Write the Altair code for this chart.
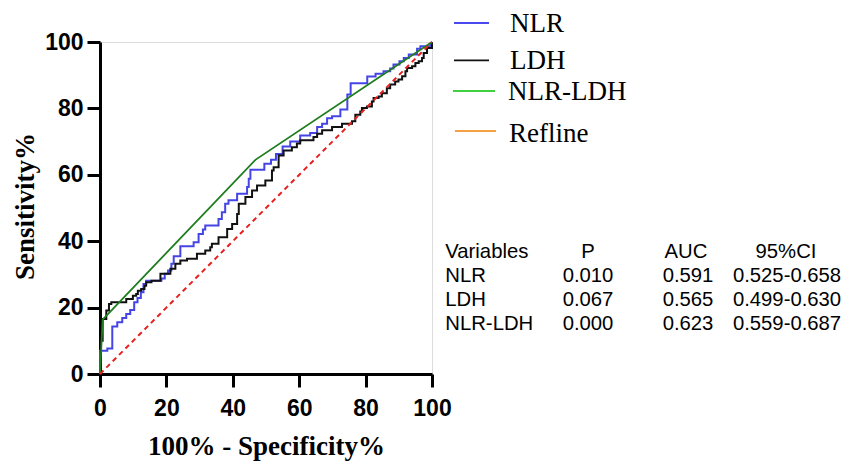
import altair as alt
import pandas as pd

# ROC curve vertices (step-after for NLR and LDH)
nlr_x = [0, 0, 2.2, 3.7, 5.2, 6.7, 7.9, 9.1, 10.3, 11.3, 12.3, 13.1, 13.9, 18.5, 19.5, 20.5,
         21.5, 22.2, 24.2, 28.2, 29.7, 31.0, 31.7, 35.7, 36.7, 37.7, 38.7, 41.3, 44.3, 44.8,
         45.3, 49.5, 51.5, 53.0, 55.0, 57.3, 60.3, 63.3, 65.4, 66.9, 68.4, 69.9, 72.4, 74.5,
         75.5, 80.5, 83.0, 85.4, 87.4, 88.4, 90.2, 91.5, 93.0, 95.5, 96.5, 99.5, 100]
nlr_y = [0, 7.0, 7.7, 14.3, 15.6, 16.9, 18.1, 19.3, 21.6, 22.9, 24.6, 27.1, 28.1, 28.8, 30.2, 31.2,
         33.2, 35.5, 38.5, 39.7, 42.2, 43.5, 44.7, 46.7, 48.7, 51.3, 52.3, 54.3, 56.3, 58.8,
         61.5, 63.3, 64.5, 66.3, 68.5, 70.0, 71.8, 72.6, 74.4, 75.4, 77.0, 77.6, 79.7, 84.2,
         87.6, 89.6, 90.4, 91.2, 92.0, 93.2, 94.2, 95.2, 96.2, 98.0, 98.7, 99.5, 100]

ldh_x = [0, 0.3, 0.8, 1.9, 2.7, 3.4, 7.9, 9.9, 10.9, 11.4, 12.4, 13.4, 13.9, 15.5, 18.2, 21.2,
         22.7, 24.2, 26.2, 29.2, 31.7, 33.2, 33.7, 35.7, 38.3, 39.8, 41.3, 41.8, 43.8, 45.8,
         47.3, 49.8, 51.8, 52.3, 53.8, 55.3, 57.8, 59.3, 60.3, 64.3, 65.4, 66.9, 69.9, 72.9,
         75.9, 76.9, 78.4, 78.9, 80.4, 81.9, 82.4, 83.9, 84.9, 86.4, 87.4, 88.9, 89.9, 91.0,
         92.0, 92.5, 94.0, 95.0, 96.0, 97.0, 97.5, 98.5, 100, 100]
ldh_y = [0, 10.0, 16.6, 19.1, 21.1, 21.6, 22.6, 23.6, 24.1, 25.1, 25.6, 26.6, 27.6, 28.1, 30.2, 31.7,
         33.2, 34.2, 34.7, 36.2, 37.2, 38.2, 39.2, 41.2, 43.7, 45.2, 48.2, 51.3, 53.3, 55.3,
         56.8, 58.3, 61.3, 62.3, 65.8, 67.3, 68.3, 69.4, 70.4, 71.4, 72.4, 73.4, 74.4, 75.4,
         76.1, 78.1, 79.1, 80.1, 80.6, 82.1, 83.1, 83.6, 84.6, 86.1, 87.2, 88.1, 88.7, 89.7,
         91.2, 92.2, 92.7, 93.7, 94.2, 95.2, 96.7, 98.2, 99.2, 100]

combo_x = [0, 0.8, 46.8, 100]
combo_y = [0, 16.4, 64.5, 100]

ref_x = [0, 100]
ref_y = [0, 100]

legend_labels = ["NLR", "LDH", "NLR-LDH", "Refline"]
legend_colors = ["#4a4af0", "#111111", "#40d040", "#f5a142"]

table_header = ["Variables", "P", "AUC", "95%CI"]
table_vars = ["NLR", "LDH", "NLR-LDH"]
table_p = ["0.010", "0.067", "0.000"]
table_auc = ["0.591", "0.565", "0.623"]
table_ci = ["0.525-0.658", "0.499-0.630", "0.559-0.687"]

xs = alt.Scale(domain=[0, 100], nice=False)
ys = alt.Scale(domain=[0, 100], nice=False)

common_axis = dict(grid=False, domainWidth=3, domainColor="black", tickColor="black",
                   tickWidth=3, tickSize=13, labelFont="Liberation Sans", labelFontSize=23,
                   labelFontWeight="bold", labelColor="black", labelFlush=False,
                   labelOverlap=False, titleFont="Liberation Serif", titleFontSize=27,
                   titleFontWeight="bold", titleColor="black", values=[0, 20, 40, 60, 80, 100])
x_axis = alt.Axis(title="100% - Specificity%", labelPadding=10, titleY=80,
                  titleBaseline="alphabetic", **common_axis)
y_axis = alt.Axis(title="Sensitivity%", labelPadding=4, titleX=-67, titleY=164,
                  titleBaseline="alphabetic", **common_axis)


def curve(xv, yv, color, interp, width=2.0, dash=None):
    df = pd.DataFrame({"x": xv, "y": yv, "o": list(range(len(xv)))})
    kw = dict(color=color, strokeWidth=width, interpolate=interp)
    if dash:
        kw["strokeDash"] = dash
    return alt.Chart(df).mark_line(**kw).encode(
        x=alt.X("x:Q", scale=xs, axis=x_axis),
        y=alt.Y("y:Q", scale=ys, axis=y_axis),
        order="o:Q",
    )


layers = [
    curve(nlr_x, nlr_y, "#4545e6", "step-after", 2.0),
    curve(ldh_x, ldh_y, "#111111", "step-after", 2.0),
    curve(combo_x, combo_y, "#1e7d1e", "linear", 1.8),
    curve(ref_x, ref_y, "#e62020", "linear", 2.0, [5, 4]),
]

# custom legend
leg_line_x = [(354, 389), (354, 389), (353, 395), (355, 396)]
leg_line_y = [-19, 18.3, 49, 89]
leg_text_x = [410, 410, 408, 409]
leg_text_y = [-9.6, 26.6, 57.6, 100]
for i, lab in enumerate(legend_labels):
    d = pd.DataFrame({"t": [lab]})
    layers.append(alt.Chart(d).mark_rule(color=legend_colors[i], strokeWidth=1.8).encode(
        x=alt.value(leg_line_x[i][0]), x2=alt.value(leg_line_x[i][1]), y=alt.value(leg_line_y[i])))
    layers.append(alt.Chart(d).mark_text(align="left", baseline="alphabetic",
                                         font="Liberation Serif", fontSize=27, color="black").encode(
        x=alt.value(leg_text_x[i]), y=alt.value(leg_text_y[i]), text="t:N"))

# table
row_y = [215.6, 240, 264.3, 288.3]
head_x = [345.3, 488, 586, 686]
col_x = [345.3, 488, 588, 687]
aligns = ["left", "center", "center", "center"]
columns = [table_vars, table_p, table_auc, table_ci]
for c in range(4):
    cells = [(table_header[c], head_x[c], row_y[0])]
    for r in range(3):
        cells.append((columns[c][r], col_x[c], row_y[r + 1]))
    for txt, cx, cy in cells:
        d = pd.DataFrame({"t": [txt]})
        layers.append(alt.Chart(d).mark_text(align=aligns[c], baseline="alphabetic",
                                             font="Liberation Sans", fontSize=20.3, color="black").encode(
            x=alt.value(cx), y=alt.value(cy), text="t:N"))

chart = alt.layer(*layers).properties(
    width=332, height=332,
    autosize=alt.AutoSizeParams(type="none"),
    padding={"left": 92, "top": 34, "right": 411, "bottom": 90},
).configure_view(strokeWidth=0).configure(background="white")

chart.save("out.html", embed_options={"renderer": "svg", "actions": False})
